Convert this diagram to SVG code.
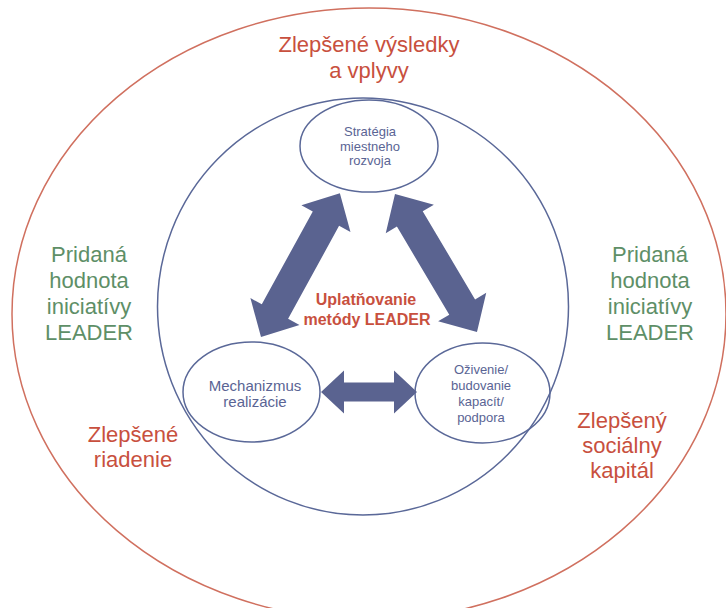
<svg xmlns="http://www.w3.org/2000/svg" width="726" height="608" viewBox="0 0 726 608">
<style>
.red{fill:#c8503e;font-family:"Liberation Sans",Arial,sans-serif;font-size:22px;text-anchor:middle}
.green{fill:#5e8f67;font-family:"Liberation Sans",Arial,sans-serif;font-size:22px;text-anchor:middle}
.core{fill:#c8503e;font-family:"Liberation Sans",Arial,sans-serif;font-size:16px;font-weight:bold;text-anchor:middle}
.node{fill:none;stroke:#5a6898;stroke-width:1.5}
.ntext{fill:#5a6494;font-family:"Liberation Sans",Arial,sans-serif;font-size:13px;text-anchor:middle}
.arrow{fill:#5a6390}
</style>
<rect width="726" height="608" fill="#ffffff"/>
<g id="background">
<ellipse cx="369" cy="314" rx="357" ry="306" fill="none" stroke="#d0705f" stroke-width="1.5"/>
<ellipse cx="363" cy="306.5" rx="205.5" ry="208.5" fill="none" stroke="#5a6898" stroke-width="1.5"/>
</g>
<g id="outcome-top">
<text class="red" x="369" y="52">Zlepšené výsledky</text>
<text class="red" x="369" y="78">a vplyvy</text>
</g>
<g id="added-value-left">
<text class="green" x="89" y="262">Pridaná</text>
<text class="green" x="89" y="288">hodnota</text>
<text class="green" x="89" y="314">iniciatívy</text>
<text class="green" x="89" y="340">LEADER</text>
</g>
<g id="added-value-right">
<text class="green" x="650" y="262">Pridaná</text>
<text class="green" x="650" y="288">hodnota</text>
<text class="green" x="650" y="314">iniciatívy</text>
<text class="green" x="650" y="340">LEADER</text>
</g>
<g id="outcome-governance">
<text class="red" x="133" y="442">Zlepšené</text>
<text class="red" x="133" y="467">riadenie</text>
</g>
<g id="outcome-social">
<text class="red" x="622" y="428">Zlepšený</text>
<text class="red" x="622" y="453">sociálny</text>
<text class="red" x="622" y="478">kapitál</text>
</g>
<g id="core">
<text class="core" x="366" y="305">Uplatňovanie</text>
<text class="core" x="367" y="325">metódy LEADER</text>
</g>
<g id="strategia">
<ellipse class="node" cx="369" cy="146" rx="69" ry="46"/>
<text class="ntext" x="370" y="136">Stratégia</text>
<text class="ntext" x="370" y="150.5">miestneho</text>
<text class="ntext" x="370" y="165">rozvoja</text>
</g>
<g id="mechanizmus">
<ellipse class="node" cx="251.5" cy="392" rx="68.5" ry="50"/>
<text class="ntext" x="255" y="391" style="font-size:15px">Mechanizmus</text>
<text class="ntext" x="255" y="407" style="font-size:15px">realizácie</text>
</g>
<g id="ozivenie">
<ellipse class="node" cx="482.5" cy="393" rx="67.5" ry="50"/>
<text class="ntext" x="481" y="374">Oživenie/</text>
<text class="ntext" x="481" y="390">budovanie</text>
<text class="ntext" x="481" y="406">kapacít/</text>
<text class="ntext" x="481" y="422">podpora</text>
</g>
<g id="connectors">
<polygon class="arrow" transform="translate(261,337) rotate(-61.25)" points="0,0 29,-28 29,-15 135,-15 135,-28 164,0 135,28 135,15 29,15 29,28"/>
<polygon class="arrow" transform="translate(395,194) rotate(59.28)" points="0,0 29,-28 29,-15 131.5,-15 131.5,-28 160.5,0 131.5,28 131.5,15 29,15 29,28"/>
<polygon class="arrow" points="321,392 344,370.5 344,382.5 394,382.5 394,370.5 417,392 394,413.5 394,401.5 344,401.5 344,413.5"/>
</g>
</svg>
